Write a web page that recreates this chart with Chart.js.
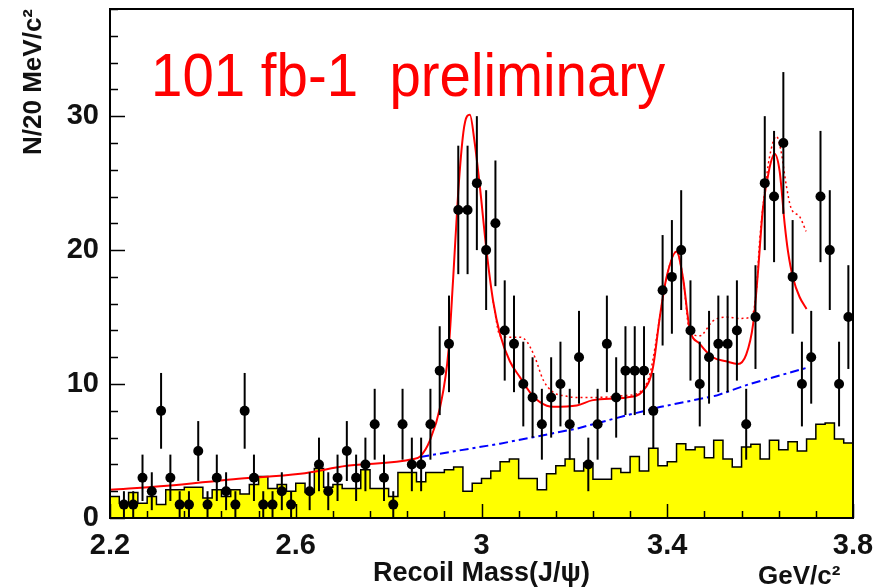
<!DOCTYPE html>
<html>
<head>
<meta charset="utf-8">
<title>Recoil Mass(J/ψ)</title>
<script src="https://cdn.jsdelivr.net/npm/chart.js@4.4.1/dist/chart.umd.min.js"></script>
<style>
  html, body { margin: 0; padding: 0; background: #fff; }
</style>
</head>
<body>
<canvas id="recoil" width="887" height="588"></canvas>
<script>
// Histogram binning: 20 MeV bins from 2.2 to 3.8 GeV/c^2
const binLow = 2.2
const binWidth = 0.02

// Events per bin (data)
const counts = [
  0, 1, 1, 3, 2, 8, 3, 1, 1, 5,
  1, 3, 2, 1, 8, 3, 1, 1, 2, 1,
  0, 2, 4, 2, 3, 5, 3, 4, 7, 3,
  1, 7, 4, 4, 7, 11, 13, 23, 23, 25,
  20, 22, 14, 13, 10, 9, 7, 9, 10, 7,
  12, 4, 7, 13, 9, 11, 11, 11, 8, 17,
  18, 20, 14, 10, 12, 13, 13, 14, 7, 15,
  25, 24, 28, 18, 10, 12, 24, 20, 10, 15
]

// Scaled sideband estimate per bin (yellow histogram)
const sideband = [
  1.6, 1.1, 1.9, 1.1, 1.6, 1.0, 2.1, 2.1, 2.3, 2.3,
  1.5, 2.1, 1.6, 2.1, 1.8, 2.5, 3.1, 2.2, 2.5, 2.0,
  2.6, 1.9, 3.7, 2.3, 2.5, 2.2, 2.2, 3.6, 2.2, 2.2,
  1.6, 3.4, 3.4, 2.7, 3.4, 3.4, 3.6, 3.8, 2.0, 2.6,
  2.95, 3.5, 4.2, 4.4, 2.95, 2.95, 2.1, 3.3, 3.9, 4.4,
  3.5, 4.1, 2.9, 2.9, 3.7, 3.4, 4.6, 3.5, 5.2, 3.9,
  4.2, 5.55, 5.1, 5.3, 4.5, 5.8, 4.4, 3.8, 5.3, 5.5,
  4.4, 5.8, 5.1, 5.7, 5.0, 5.9, 7.0, 7.1, 5.9, 5.6
]

// Fit result (solid red)
const fitMass = [
  2.200, 2.323, 2.466, 2.610, 2.710, 2.853, 2.868, 2.889, 2.911, 2.929,
  2.939, 2.950, 2.961, 2.969, 2.975, 2.985, 2.996, 3.011, 3.025, 3.040,
  3.061, 3.083, 3.104, 3.126, 3.154, 3.205, 3.240, 3.312, 3.348, 3.369,
  3.384, 3.398, 3.420, 3.434, 3.448, 3.470, 3.498, 3.527, 3.552, 3.570,
  3.585, 3.595, 3.606, 3.620, 3.631, 3.642, 3.653, 3.660, 3.671, 3.685,
  3.700
]
const fitValue = [
  2.1, 2.4, 2.9, 3.3, 3.9, 4.4, 4.6, 5.8, 8.3, 12.5,
  17.9, 24.4, 28.8, 30.0, 30.1, 28.1, 24.9, 19.9, 16.2, 13.7,
  11.7, 10.5, 9.4, 8.65, 8.3, 8.4, 8.8, 9.0, 9.5, 11.2,
  15.0, 17.9, 19.9, 17.9, 14.2, 13.0, 12.0, 11.7, 11.5, 12.2,
  14.5, 18.2, 23.1, 26.1, 27.2, 25.9, 21.9, 19.9, 17.9, 16.5,
  15.6
]

// Alternative fit with extra components (dotted red)
const altMass = [
  3.025, 3.040, 3.061, 3.083, 3.097, 3.115, 3.133, 3.154, 3.182, 3.205,
  3.240, 3.312, 3.341, 3.363, 3.384, 3.398, 3.420, 3.434, 3.448, 3.470,
  3.498, 3.527, 3.556, 3.581, 3.592, 3.599, 3.610, 3.620, 3.635, 3.645,
  3.656, 3.667, 3.685, 3.699
]
const altValue = [
  16.2, 13.6, 13.5, 13.5, 13.2, 12.0, 10.3, 9.4, 9.1, 9.0,
  9.0, 9.15, 9.4, 10.8, 15.0, 17.9, 19.9, 17.9, 14.0, 13.6,
  14.7, 15.0, 14.9, 15.0, 17.0, 20.7, 24.4, 26.9, 28.5, 27.4,
  24.9, 23.1, 22.5, 21.4
]

// Background component (blue dash-dot)
const bkgMass = [2.868, 3.040, 3.205, 3.312, 3.384, 3.506, 3.577, 3.699]
const bkgValue = [4.56, 5.55, 6.67, 7.66, 8.28, 9.14, 10.0, 11.2]

const xTickLabels = ["2.2", "2.6", "3", "3.4", "3.8"]
const yTickLabels = ["0", "10", "20", "30"]

// ---- build datasets ----
const dataPoints = counts
  .map((n, k) => ({ x: binLow + binWidth * (k + 0.5), y: n }))
  .filter((p) => p.y > 0)

const sidebandSteps = sideband.map((v, k) => ({ x: binLow + binWidth * k, y: v }))
sidebandSteps.push({ x: binLow + binWidth * sideband.length, y: sideband[sideband.length - 1] })

const toXY = (xs, ys) => xs.map((x, i) => ({ x, y: ys[i] }))

const FONT = '"Liberation Sans", Arial, sans-serif'

// Poisson error bars under the data markers
const errorBars = {
  id: "errorBars",
  beforeDatasetDraw(chart, args) {
    if (args.index !== 0) return
    const { ctx, scales } = chart
    ctx.save()
    ctx.strokeStyle = "#000"
    ctx.lineWidth = 2
    args.meta.data.forEach((pt, i) => {
      const n = dataPoints[i].y
      const err = Math.sqrt(n)
      ctx.beginPath()
      ctx.moveTo(pt.x, scales.y.getPixelForValue(n - err))
      ctx.lineTo(pt.x, scales.y.getPixelForValue(n + err))
      ctx.stroke()
    })
    ctx.restore()
  },
}

// Box frame with inward tick marks
const frame = {
  id: "frame",
  afterDatasetsDraw(chart) {
    const { ctx, chartArea: a, scales } = chart
    ctx.save()
    ctx.strokeStyle = "#000"
    ctx.lineWidth = 1.5
    scales.x.ticks.forEach((t, i) => {
      const px = Math.round(scales.x.getPixelForValue(t.value)) + 0.5
      const len = i % 5 === 0 ? 14 : 7
      ctx.beginPath()
      ctx.moveTo(px, a.bottom)
      ctx.lineTo(px, a.bottom - len)
      ctx.stroke()
    })
    scales.y.ticks.forEach((t) => {
      const py = Math.round(scales.y.getPixelForValue(t.value)) + 0.5
      const len = t.value % 10 === 0 ? 15 : 8
      ctx.beginPath()
      ctx.moveTo(a.left, py)
      ctx.lineTo(a.left + len, py)
      ctx.stroke()
    })
    ctx.lineWidth = 2
    ctx.strokeRect(a.left, a.top, a.right - a.left, a.bottom - a.top)
    ctx.restore()
  },
  afterDraw(chart) {
    const { ctx } = chart
    ctx.save()
    // luminosity tag
    ctx.fillStyle = "#ff0000"
    ctx.font = "61px " + FONT
    ctx.textBaseline = "alphabetic"
    ctx.translate(151, 96)
    ctx.scale(0.925, 1)
    ctx.fillText("101 fb-1  preliminary", 0, 0)
    ctx.restore()

    // x axis unit
    ctx.save()
    ctx.fillStyle = "#111"
    ctx.font = "bold 26px " + FONT
    ctx.textBaseline = "alphabetic"
    ctx.fillText("GeV/c²", 758, 584)
    ctx.restore()
  },
}

new Chart(document.getElementById("recoil"), {
  type: "scatter",
  data: {
    datasets: [
      {
        label: "data",
        data: dataPoints,
        pointStyle: "circle",
        pointRadius: 5,
        backgroundColor: "#000",
        borderColor: "#000",
        borderWidth: 0,
      },
      {
        label: "fit",
        type: "line",
        data: toXY(fitMass, fitValue),
        borderColor: "#ff0000",
        borderWidth: 2,
        pointRadius: 0,
        cubicInterpolationMode: "monotone",
        fill: false,
      },
      {
        label: "fit (alt)",
        type: "line",
        data: toXY(altMass, altValue),
        borderColor: "#ff0000",
        borderWidth: 1.5,
        borderDash: [2, 3],
        pointRadius: 0,
        cubicInterpolationMode: "monotone",
        fill: false,
      },
      {
        label: "background",
        type: "line",
        data: toXY(bkgMass, bkgValue),
        borderColor: "#0000ff",
        borderWidth: 2,
        borderDash: [9, 4, 3, 4],
        pointRadius: 0,
        tension: 0,
        fill: false,
      },
      {
        label: "sideband",
        type: "line",
        data: sidebandSteps,
        stepped: "before",
        borderColor: "#000",
        borderWidth: 1.5,
        backgroundColor: "#ffff00",
        fill: "origin",
        pointRadius: 0,
      },
    ],
  },
  options: {
    responsive: false,
    animation: false,
    layout: { padding: { top: 9, right: 34, left: 0, bottom: 0 } },
    plugins: {
      legend: { display: false },
      tooltip: { enabled: false },
    },
    scales: {
      x: {
        type: "linear",
        min: 2.2,
        max: 3.8,
        grid: { display: false, drawTicks: false },
        border: { display: false },
        afterFit: (s) => {
          s.height = 70
          s.paddingLeft = 0
          s.paddingRight = 0
        },
        ticks: {
          stepSize: 0.08,
          autoSkip: false,
          maxRotation: 0,
          padding: 11,
          color: "#111",
          font: { family: FONT, size: 29, weight: "bold" },
          callback: (v, i) => (i % 5 === 0 ? xTickLabels[i / 5] : ""),
        },
        title: {
          display: true,
          text: "Recoil Mass(J/ψ)",
          color: "#111",
          font: { family: FONT, size: 27, weight: "bold" },
          padding: { top: 0, bottom: -2 },
        },
      },
      y: {
        min: 0,
        max: 38,
        grid: { display: false, drawTicks: false },
        border: { display: false },
        afterFit: (s) => {
          s.width = 110
          s.paddingTop = 0
          s.paddingBottom = 0
        },
        ticks: {
          stepSize: 2,
          autoSkip: false,
          padding: 11,
          color: "#111",
          font: { family: FONT, size: 29, weight: "bold" },
          callback: (v) => (v % 10 === 0 && v <= 30 ? yTickLabels[v / 10] : ""),
        },
        title: {
          display: true,
          text: "N/20 MeV/c²",
          align: "end",
          color: "#111",
          font: { family: FONT, size: 26, weight: "bold" },
          padding: { top: 18, bottom: 0 },
        },
      },
    },
  },
  plugins: [errorBars, frame],
})
</script>
</body>
</html>
